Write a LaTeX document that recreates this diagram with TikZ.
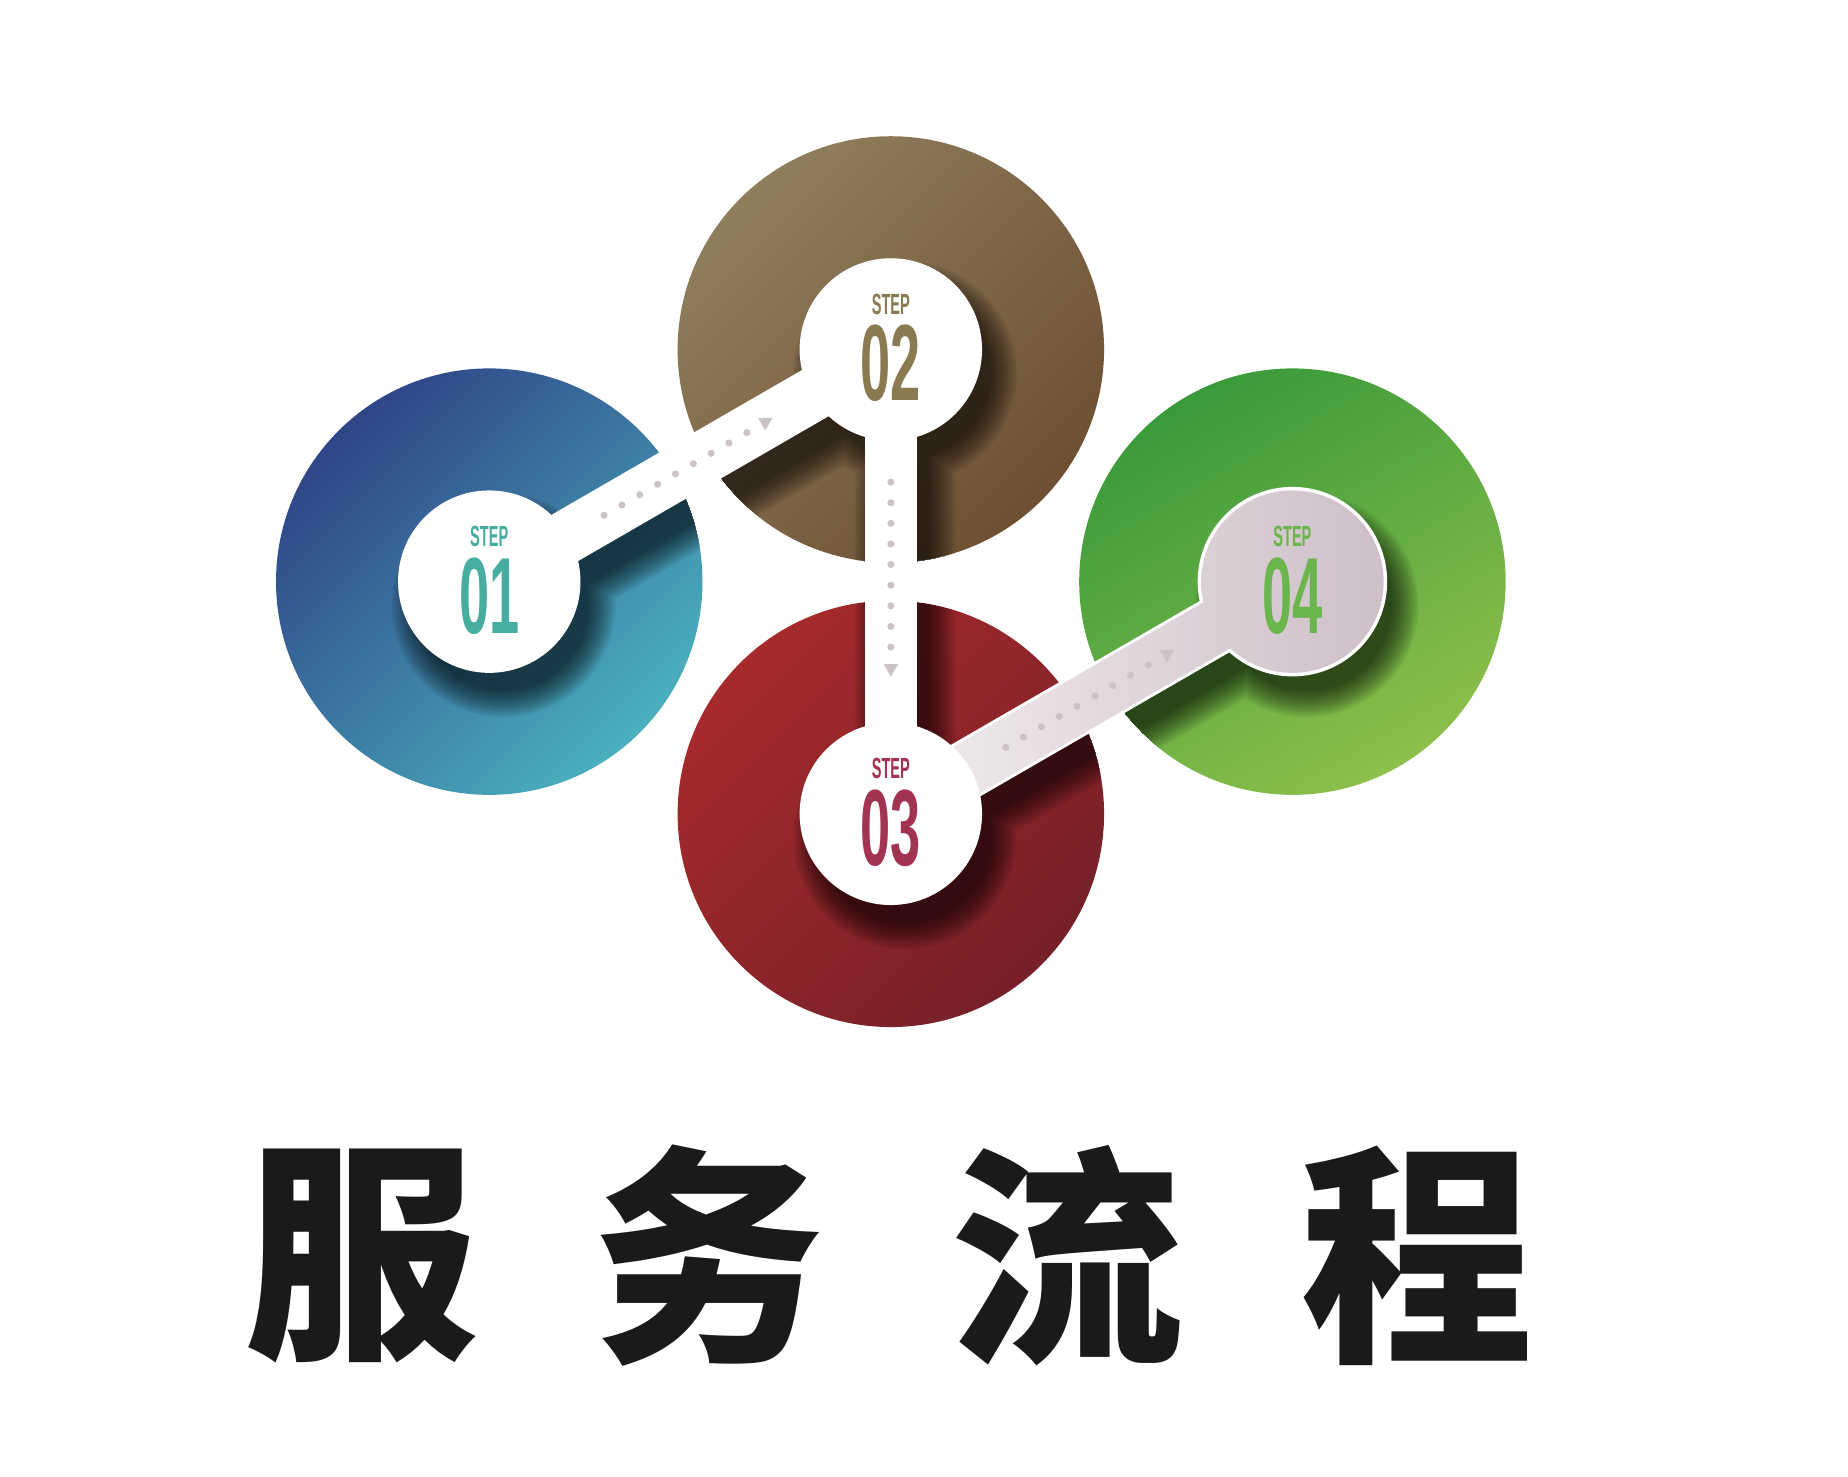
\documentclass[tikz,border=0pt]{standalone}
\usepackage{fontspec}
\usepackage{graphicx}
\setmainfont{Liberation Sans}
\newfontfamily\cjk{Noto Sans CJK SC}[UprightFont={* Black}]
\usetikzlibrary{calc,shapes.geometric}

\definecolor{blueA}{HTML}{2F4587}
\definecolor{blueB}{HTML}{4AB0BE}
\definecolor{brownA}{HTML}{8F7E5C}
\definecolor{brownB}{HTML}{6E4F33}
\definecolor{redA}{HTML}{A62A2B}
\definecolor{redB}{HTML}{762029}
\definecolor{greenA}{HTML}{3A9A3A}
\definecolor{greenB}{HTML}{8DBF4B}
\definecolor{barA}{HTML}{F6F3F4}
\definecolor{barB}{HTML}{C9B8C2}
\definecolor{dotc}{HTML}{CCC3C9}
\definecolor{numA}{HTML}{47ADA0}
\definecolor{numB}{HTML}{8A7A50}
\definecolor{numC}{HTML}{A23452}
\definecolor{numD}{HTML}{6AB64C}
\definecolor{ink}{HTML}{1A1A1A}

\newcommand{\steptag}{\scalebox{0.5}[1]{\fontsize{7}{7}\selectfont\bfseries STEP}}
\newcommand{\stepnum}[1]{\scalebox{0.5}[1]{\fontsize{26}{26}\selectfont\bfseries #1}}

\begin{document}
\begin{tikzpicture}[x=0.01cm, y=-0.01cm,
    tagtext/.style={inner sep=0pt, text=#1},
    dotmark/.style={fill=dotc},
    tri/.style={regular polygon, regular polygon sides=3, fill=dotc, inner sep=0pt, minimum size=0.14cm},
    title/.style={inner sep=0pt, text=ink, font=\cjk\fontsize{56}{56}\selectfont}]

    %% Background
    \useasboundingbox[fill=white] (0,0) rectangle (1560,1246);

    % Centres
    \coordinate (s1) at (413,491);
    \coordinate (s2) at (752,295);
    \coordinate (s3) at (752,687);
    \coordinate (s4) at (1091,491);

    % Big discs
    \shade[left color=blueA, right color=blueB, shading angle=45] (s1) circle (180);
    \shade[left color=brownA, right color=brownB, shading angle=45] (s2) circle (180);
    \shade[left color=redA, right color=redB, shading angle=45] (s3) circle (180);
    \shade[left color=greenA, right color=greenB, shading angle=30] (s4) circle (180);

    % Shadow
    \foreach \i in {1,...,4}
    {
    \coordinate (d\i) at ($(s\i)+(12,20)$);
    }
    \begin{scope}
    \clip (s1) circle (180) (s2) circle (180) (s3) circle (180) (s4) circle (180);
    \foreach \w in {0,3,...,45}
    {
    \begin{scope}[transparency group, opacity=0.05]
    \draw[line width=0.4cm+\w*0.01cm, line join=round] (d1) -- (d2) -- (d3) -- (d4);
    \fill (d1) circle ({72+\w/2}) (d2) circle ({72+\w/2})
          (d3) circle ({72+\w/2}) (d4) circle ({72+\w/2});
    \end{scope}
    }
    \end{scope}

    % Bars
    \draw[white, line width=0.45cm] (s1) -- (s2);
    \draw[white, line width=0.44cm] (s2) -- (s3);

    % Last bar and last step
    \draw[white, line width=0.5cm] (s3) -- (s4);
    \fill[white] (s4) circle (80);
    \begin{scope}
    \clip ($(s3)!0.225cm!90:(s4)$) -- ($(s4)!0.225cm!-90:(s3)$)
       -- ($(s4)!0.225cm!90:(s3)$) -- ($(s3)!0.225cm!-90:(s4)$) -- cycle;
    \shade[left color=barA, right color=barB] (700,380) rectangle (1230,800);
    \end{scope}
    \begin{scope}
    \clip (s4) circle (77);
    \shade[left color=barA, right color=barB] (700,380) rectangle (1230,800);
    \end{scope}

    % Steps
    \fill[white] (s1) circle (77) (s2) circle (77) (s3) circle (77);

    % Dots
    \foreach \k in {0,...,8}
    {
    \fill[dotmark] ($(s1)!{(112+17.4*\k)*0.01cm}!(s2)$) circle (3);
    \fill[dotmark] ($(s2)!{(112+17.4*\k)*0.01cm}!(s3)$) circle (3);
    \fill[dotmark] ($(s3)!{(112+17.4*\k)*0.01cm}!(s4)$) circle (3);
    }
    \node[tri, rotate=-60] (a1) at ($(s1)!2.69cm!(s2)$) {};
    \node[tri, rotate=180] (a2) at ($(s2)!2.69cm!(s3)$) {};
    \node[tri, rotate=-60] (a3) at ($(s3)!2.69cm!(s4)$) {};

    % Labels
    \node[tagtext=numA] (t1) at ($(s1)+(0,-38)$) {\steptag};
    \node[tagtext=numA] (n1) at ($(s1)+(0,12)$) {\stepnum{01}};
    \node[tagtext=numB] (t2) at ($(s2)+(0,-38)$) {\steptag};
    \node[tagtext=numB] (n2) at ($(s2)+(0,12)$) {\stepnum{02}};
    \node[tagtext=numC] (t3) at ($(s3)+(0,-38)$) {\steptag};
    \node[tagtext=numC] (n3) at ($(s3)+(0,12)$) {\stepnum{03}};
    \node[tagtext=numD] (t4) at ($(s4)+(0,-38)$) {\steptag};
    \node[tagtext=numD] (n4) at ($(s4)+(0,12)$) {\stepnum{04}};

    % Title
    \node[title] (h1) at (305,1060) {服};
    \node[title] (h2) at (598,1060) {务};
    \node[title] (h3) at (901,1060) {流};
    \node[title] (h4) at (1196,1060) {程};

\end{tikzpicture}
\end{document}
